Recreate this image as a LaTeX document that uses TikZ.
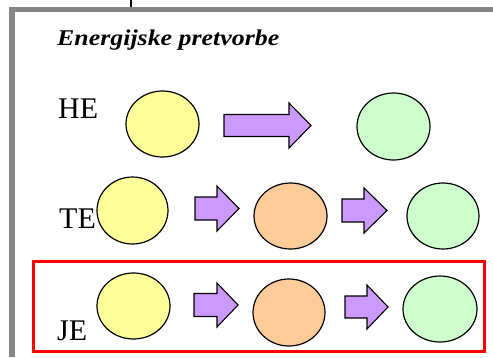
\documentclass[tikz,border=0pt]{standalone}
\usepackage{fontspec}
\setmainfont{Liberation Serif}
\usetikzlibrary{shapes.geometric}
\definecolor{yel}{HTML}{FFFF99}
\definecolor{grn}{HTML}{CCFFCC}
\definecolor{org}{HTML}{FFCC99}
\definecolor{pur}{HTML}{CC99FF}
\definecolor{frame}{HTML}{878787}
\tikzset{
  blob/.style={ellipse, draw=black, line width=1.2pt, inner sep=0pt},
  lbl/.style={anchor=base west, inner sep=0pt, font=\fontsize{30}{32}\selectfont},
  barrow/.style={draw=black, fill=pur, line width=1.1pt, line join=miter},
}
% #1 start x, #2 head base x, #3 tip x, #4 centre y, #5 half body, #6 half head
\newcommand{\blockarr}[6]{%
  \draw[barrow] (#1,#4-#5) -- (#2,#4-#5) -- (#2,#4-#6) -- (#3,#4) -- (#2,#4+#6) -- (#2,#4+#5) -- (#1,#4+#5) -- cycle;}
\begin{document}
\begin{tikzpicture}[x=1pt,y=-1pt]
\useasboundingbox (0,0) rectangle (493,357);
% frame
\draw[frame, line width=5.5pt] (12,357) -- (12,9.5) -- (493,9.5);
\coordinate (tickt) at (130.5,0);
\coordinate (tickb) at (130.5,7);
\draw[black, line width=2pt] (tickt) -- (tickb);
% title
\node[anchor=base west, inner sep=0pt, font=\fontsize{22.5}{24}\selectfont\bfseries\itshape] (title) at (57,45) {\scalebox{1.15}[1]{Energijske pretvorbe}};
% labels
\node[lbl] (he) at (58,118) {HE};
\node[lbl] (te) at (59,228) {TE};
\node[lbl] (je) at (57,340) {JE};
% HE row
\node[blob, fill=yel, minimum width=73pt, minimum height=66pt] (he1) at (162.5,124) {};
\blockarr{224}{289}{311}{125.5}{11}{22.5}
\node[blob, fill=grn, minimum width=73pt, minimum height=67pt] (he2) at (393.5,126.5) {};
% TE row
\node[blob, fill=yel, minimum width=71pt, minimum height=67pt] (te1) at (132.5,210.5) {};
\blockarr{195}{217}{239}{208.5}{11.5}{22.5}
\node[blob, fill=org, minimum width=73pt, minimum height=66pt] (te2) at (290.5,216) {};
\blockarr{342}{364}{387}{210.5}{11.5}{22.5}
\node[blob, fill=grn, minimum width=72pt, minimum height=66pt] (te3) at (443,216) {};
% JE row
\draw[red, line width=3pt] (33.5,261.5) rectangle (484.5,351.5);
\node[blob, fill=yel, minimum width=73pt, minimum height=66pt] (je1) at (133.5,306) {};
\blockarr{194}{217}{238}{305}{11.5}{22}
\node[blob, fill=org, minimum width=72pt, minimum height=67pt] (je2) at (289,312.5) {};
\blockarr{345}{367}{388}{307}{11}{22}
\node[blob, fill=grn, minimum width=74pt, minimum height=66pt] (je3) at (440,309) {};
\end{tikzpicture}
\end{document}
